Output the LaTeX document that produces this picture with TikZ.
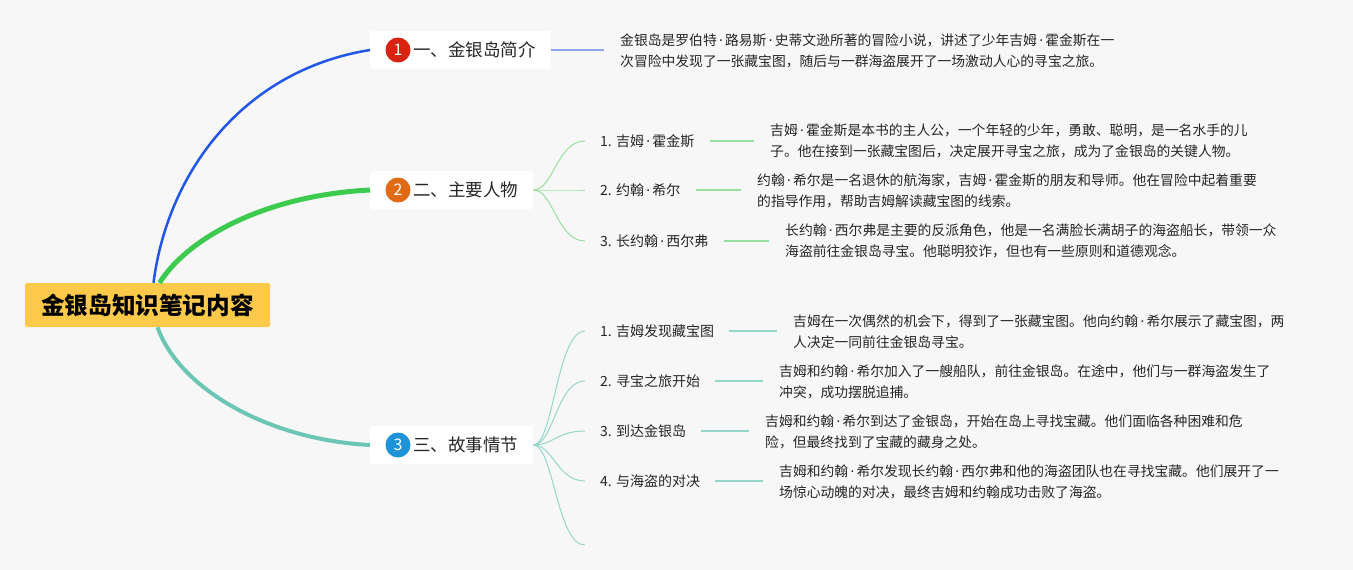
\documentclass[tikz,border=0pt]{standalone}
\usepackage{fontspec}
\setmainfont{Noto Sans CJK SC}
\newfontfamily\latinfont{Noto Sans}
\newcommand\pdot{{\latinfont\,·\,}}
\usepackage{tikz}
\definecolor{bggray}{HTML}{F7F7F7}
\definecolor{rootyellow}{HTML}{FDC94B}
\definecolor{lineblue}{HTML}{2156E8}
\definecolor{linegreen}{HTML}{3CCB4F}
\definecolor{lineteal}{HTML}{6CC5B5}
\definecolor{dotred}{HTML}{D7230F}
\definecolor{dotorange}{HTML}{E06A16}
\definecolor{dotblue}{HTML}{1E93D8}
\definecolor{forkgreen}{HTML}{98E0A0}
\definecolor{forkteal}{HTML}{95D6CA}
\definecolor{stubblue}{HTML}{8AA6E8}
\definecolor{textgray}{HTML}{262626}

\begin{document}
\begin{tikzpicture}[x=1pt,y=-1pt,
    rootbox/.style={fill=rootyellow, rounded corners=2pt, minimum width=245pt, minimum height=44pt, inner sep=0pt, font=\fontsize{23.6}{26}\selectfont\bfseries},
    branchbox/.style={fill=white, rounded corners=2pt, anchor=west, minimum height=38pt, inner sep=0pt, font=\fontsize{17.5}{20}\selectfont, text=textgray, execute at begin node={\hspace*{43pt}}, execute at end node={\hspace*{15pt}}},
    numdot/.style={circle, fill=#1, text=white, minimum size=25pt, inner sep=0pt, font=\fontsize{16}{16}\selectfont},
    childlabel/.style={anchor=west, inner sep=0pt, font=\fontsize{14}{16}\selectfont, text=textgray},
    detail/.style={anchor=west, inner sep=0pt, align=left, font=\fontsize{13.8}{21}\selectfont, text=textgray},
    fork/.style={draw=#1, line width=1pt},
    stub/.style={draw=#1, line width=2pt, shorten <=15pt, shorten >=16pt},
]
    \fill[bggray] (0,0) rectangle (1353,570);
    \useasboundingbox (0,0) rectangle (1353,570);

    \node[rootbox] (root) at (147.5,305) {金银岛知识笔记内容};

    \node[branchbox] (b1) at (370,50) {一、金银岛简介};
    \node[numdot=dotred] (n1) at ([xshift=28pt]b1.west) {1};
    \node[branchbox] (b2) at (370,190) {二、主要人物};
    \node[numdot=dotorange] (n2) at ([xshift=28pt]b2.west) {2};
    \node[branchbox] (b3) at (370,445) {三、故事情节};
    \node[numdot=dotblue] (n3) at ([xshift=28pt]b3.west) {3};

    \draw[lineblue, line width=2.5pt] ([xshift=6pt]root.north) .. controls (168,170) and (245,70) .. (b1.west);
    \draw[linegreen, line width=5pt] ([xshift=12pt]root.north) .. controls (190,235) and (270,195) .. (b2.west);
    \draw[lineteal, line width=4pt] ([xshift=10pt]root.south) .. controls (180,390) and (270,440) .. (b3.west);

    \node[detail] (d1) at (620,51) {金银岛是罗伯特\pdot 路易斯\pdot 史蒂文逊所著的冒险小说，讲述了少年吉姆\pdot 霍金斯在一\\次冒险中发现了一张藏宝图，随后与一群海盗展开了一场激动人心的寻宝之旅。};
    \draw[stubblue, line width=1.5pt, shorten >=16pt] (b1.east) -- (b1.east -| d1.west);

    \node[childlabel] (c21) at (600,141) {1. 吉姆\pdot 霍金斯};
    \node[childlabel] (c22) at (600,190) {2. 约翰\pdot 希尔};
    \node[childlabel] (c23) at (600,241) {3. 长约翰\pdot 西尔弗};
    \node[detail] (d21) at (770,141) {吉姆\pdot 霍金斯是本书的主人公，一个年轻的少年，勇敢、聪明，是一名水手的儿\\子。他在接到一张藏宝图后，决定展开寻宝之旅，成为了金银岛的关键人物。};
    \node[detail] (d22) at (757,191) {约翰\pdot 希尔是一名退休的航海家，吉姆\pdot 霍金斯的朋友和导师。他在冒险中起着重要\\的指导作用，帮助吉姆解读藏宝图的线索。};
    \node[detail] (d23) at (785,241) {长约翰\pdot 西尔弗是主要的反派角色，他是一名满脸长满胡子的海盗船长，带领一众\\海盗前往金银岛寻宝。他聪明狡诈，但也有一些原则和道德观念。};
    \foreach \i in {1,2,3} {
        \draw[fork=forkgreen] (b2.east) .. controls +(20,0) and +(-28,0) .. ([xshift=-15pt]c2\i.west);
        \draw[stub=forkgreen] (c2\i.east) -- (c2\i.east -| d2\i.west);
    }

    \node[childlabel] (c31) at (600,331) {1. 吉姆发现藏宝图};
    \node[childlabel] (c32) at (600,381) {2. 寻宝之旅开始};
    \node[childlabel] (c33) at (600,431) {3. 到达金银岛};
    \node[childlabel] (c34) at (600,481) {4. 与海盗的对决};
    \coordinate (c35) at (585,545);
    \node[detail] (d31) at (793,332) {吉姆在一次偶然的机会下，得到了一张藏宝图。他向约翰\pdot 希尔展示了藏宝图，两\\人决定一同前往金银岛寻宝。};
    \node[detail] (d32) at (779,382) {吉姆和约翰\pdot 希尔加入了一艘船队，前往金银岛。在途中，他们与一群海盗发生了\\冲突，成功摆脱追捕。};
    \node[detail] (d33) at (765,432) {吉姆和约翰\pdot 希尔到达了金银岛，开始在岛上寻找宝藏。他们面临各种困难和危\\险，但最终找到了宝藏的藏身之处。};
    \node[detail] (d34) at (779,482) {吉姆和约翰\pdot 希尔发现长约翰\pdot 西尔弗和他的海盗团队也在寻找宝藏。他们展开了一\\场惊心动魄的对决，最终吉姆和约翰成功击败了海盗。};
    \foreach \i in {1,2,3,4} {
        \draw[fork=forkteal] (b3.east) .. controls +(20,0) and +(-28,0) .. ([xshift=-15pt]c3\i.west);
        \draw[stub=forkteal] (c3\i.east) -- (c3\i.east -| d3\i.west);
    }
    \draw[fork=forkteal] (b3.east) .. controls +(20,0) and +(-28,0) .. (c35);
\end{tikzpicture}
\end{document}
